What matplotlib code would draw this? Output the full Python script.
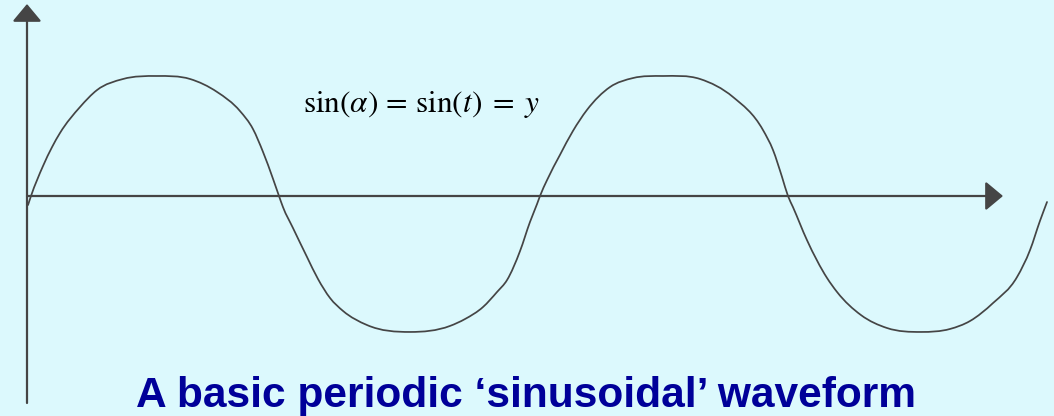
import matplotlib
matplotlib.use("Agg")
import matplotlib.pyplot as plt
import numpy as np
from matplotlib.patches import FancyArrowPatch, PathPatch
from matplotlib.path import Path

# ---- data: phase angle (degrees) and amplitude ----
angle_deg = [-2.1, 0.0, 8.5, 14.9, 20.5, 34.7, 46.7, 65.1, 89.1, 112.5,
             131.6, 147.8, 157.0, 164.1, 171.2, 175.4, 178.2, 185.3, 195.2, 203.0,
             211.5, 220.7, 237.6, 268.1, 296.3, 307.0, 319.7, 329.6, 336.7, 345.9,
             352.9, 357.9, 360.0, 365.0, 374.1, 383.3, 393.2, 409.5, 425.8, 447.0,
             473.2, 496.5, 517.7, 524.8, 531.2, 535.4, 538.9, 548.8, 563.0, 570.1,
             587.0, 605.4, 629.5, 650.0, 664.1, 680.4, 697.4, 706.6, 713.6, 718.6]
amplitude = [-0.075, 0.0, 0.25, 0.408, 0.525, 0.742, 0.883, 0.975, 1.0, 0.975,
             0.867, 0.708, 0.558, 0.367, 0.142, 0.0, -0.092, -0.267, -0.508, -0.692,
             -0.85, -0.958, -1.075, -1.133, -1.083, -1.025, -0.925, -0.8, -0.7, -0.458,
             -0.217, -0.067, 0.0, 0.133, 0.342, 0.542, 0.717, 0.908, 0.983, 1.0,
             0.975, 0.825, 0.55, 0.383, 0.158, 0.0, -0.092, -0.367, -0.683, -0.8,
             -0.992, -1.1, -1.133, -1.108, -1.042, -0.892, -0.675, -0.45, -0.208, -0.05]

equation = r"$\sin(\alpha)\,=\,\sin(t)\;=\;y$"
title = "A basic periodic \u2018sinusoidal\u2019 waveform"

BG = "#DCF9FD"
INK = "#454545"
TITLE_COLOR = "#000099"

plt.rcParams["mathtext.fontset"] = "stix"

W, H = 1054, 416
fig = plt.figure(figsize=(W / 100, H / 100), dpi=100, facecolor=BG)
ax = fig.add_axes([0, 0, 1, 1])
ax.set_facecolor(BG)
ax.axis("off")

# map: x px = 31 + deg*509/360 ; y px = 196 - amp*120
deg_per_px = 360 / 509
ax.set_xlim(-31 * deg_per_px, (W - 31) * deg_per_px)
ax.set_ylim((196 - H) / 120, 196 / 120)

def px_to_data(px, py):
    return (px - 31) * deg_per_px, (196 - py) / 120

# axes arrows
y0 = px_to_data(27, 403)
y1 = px_to_data(27, 4)
x0 = px_to_data(27, 196)
x1 = px_to_data(1003, 196)
for a, b in [(y0, y1), (x0, x1)]:
    arr = FancyArrowPatch(a, b, arrowstyle="-|>,head_length=1.08,head_width=0.9",
                          mutation_scale=10, color=INK, lw=1.6,
                          shrinkA=0, shrinkB=0, zorder=2)
    ax.add_patch(arr)

# smooth curve through the read points: cubic Hermite (non-uniform 3-point
# derivative) written as Bezier segments
x = np.asarray(angle_deg, float)
y = np.asarray(amplitude, float)
h = np.diff(x)
s = np.diff(y) / h
m = np.empty_like(y)
m[0], m[-1] = s[0], s[-1]
m[1:-1] = (s[1:] * h[:-1] + s[:-1] * h[1:]) / (h[:-1] + h[1:])
verts = [(x[0], y[0])]
codes = [Path.MOVETO]
for i in range(len(x) - 1):
    d = h[i] / 3.0
    verts += [(x[i] + d, y[i] + m[i] * d),
              (x[i + 1] - d, y[i + 1] - m[i + 1] * d),
              (x[i + 1], y[i + 1])]
    codes += [Path.CURVE4] * 3
ax.add_patch(PathPatch(Path(verts, codes), facecolor="none", edgecolor=INK,
                       lw=1.25, zorder=3, joinstyle="round", capstyle="round"))

fig.text(303 / W, 1 - 112 / H, equation, fontsize=22.5, color="black",
         ha="left", va="baseline")

fig.text(526.5 / W, 1 - 407 / H, title, fontsize=30.6, fontweight="bold",
         family=["Liberation Sans", "DejaVu Sans"], color=TITLE_COLOR,
         ha="center", va="baseline")

fig.savefig("out.png", dpi=100, facecolor=BG)
